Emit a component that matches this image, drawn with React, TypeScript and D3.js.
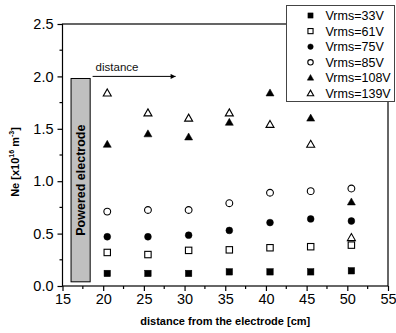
import React, { useEffect, useRef } from "react";
import * as d3 from "d3";

// distance from the electrode [cm]
const distances = [20.5, 25.5, 30.5, 35.5, 40.5, 45.5, 50.5];

const seriesNames = [
  "Vrms=33V",
  "Vrms=61V",
  "Vrms=75V",
  "Vrms=85V",
  "Vrms=108V",
  "Vrms=139V",
];

// Ne [x10^16 m^-3]
const v33 = [0.12, 0.12, 0.12, 0.135, 0.135, 0.135, 0.145];
const v61 = [0.32, 0.3, 0.34, 0.345, 0.365, 0.375, 0.39];
const v75 = [0.47, 0.47, 0.485, 0.53, 0.605, 0.64, 0.62];
const v85 = [0.71, 0.725, 0.725, 0.79, 0.89, 0.905, 0.93];
const v108 = [1.35, 1.45, 1.42, 1.56, 1.84, 1.6, 0.8];
const v139 = [1.84, 1.65, 1.6, 1.65, 1.54, 1.35, 0.46];

const seriesValues = [v33, v61, v75, v85, v108, v139];
const markerShapes = ["square", "square", "circle", "circle", "triangle", "triangle"];
const markerFilled = [true, false, true, false, true, false];

const xTicks = [15, 20, 25, 30, 35, 40, 45, 50, 55];
const yTicks = [0.0, 0.5, 1.0, 1.5, 2.0, 2.5];

// electrode block (data units)
const electrodeX = [16.05, 18.4];
const electrodeY = [0.04, 1.98];
const arrowX = [18.7, 28.9];

const App: React.FC = () => {
  const ref = useRef<SVGSVGElement>(null);

  useEffect(() => {
    const svg = d3.select(ref.current);
    svg.selectAll("*").remove();

    const margin = { top: 24, right: 8, bottom: 47, left: 62.5 };
    const W = 396;
    const H = 333;
    const width = W - margin.left - margin.right;
    const height = H - margin.top - margin.bottom;
    const font = "'Liberation Sans', Arial, sans-serif";

    const x = d3.scaleLinear().domain([15, 55]).range([0, width]);
    const y = d3.scaleLinear().domain([0, 2.5]).range([height, 0]);

    const g = svg.append("g").attr("transform", `translate(${margin.left},${margin.top})`);

    // frame
    g.append("rect")
      .attr("width", width)
      .attr("height", height)
      .attr("fill", "none")
      .attr("stroke", "#000")
      .attr("stroke-width", 1.2);

    // x axis
    const xAxis = g.append("g").attr("transform", `translate(0,${height})`);
    xAxis
      .call(d3.axisBottom(x).tickValues(xTicks).tickSize(5).tickPadding(3).tickFormat(d3.format("d")))
      .call((s: any) => s.select(".domain").remove());
    xAxis.selectAll("text").attr("font-size", 14.5).attr("font-family", font).attr("fill", "#000");
    xAxis.selectAll("line").attr("stroke-width", 1.2);
    xAxis
      .selectAll(".minor")
      .data(xTicks.slice(0, -1).map((t) => t + 2.5))
      .join("line")
      .attr("x1", (d: number) => x(d))
      .attr("x2", (d: number) => x(d))
      .attr("y1", 0)
      .attr("y2", 3)
      .attr("stroke", "#000")
      .attr("stroke-width", 1.2);

    // y axis
    const yAxis = g.append("g");
    yAxis
      .call(d3.axisLeft(y).tickValues(yTicks).tickSize(5).tickPadding(4).tickFormat(d3.format(".1f")))
      .call((s: any) => s.select(".domain").remove());
    yAxis.selectAll("text").attr("font-size", 14.5).attr("font-family", font).attr("fill", "#000");
    yAxis.selectAll("line").attr("stroke-width", 1.2);
    yAxis
      .selectAll(".minor")
      .data(yTicks.slice(0, -1).map((t) => t + 0.25))
      .join("line")
      .attr("x1", -3)
      .attr("x2", 0)
      .attr("y1", (d: number) => y(d))
      .attr("y2", (d: number) => y(d))
      .attr("stroke", "#000")
      .attr("stroke-width", 1.2);

    // axis labels
    svg
      .append("text")
      .attr("x", margin.left + width / 2)
      .attr("y", 325)
      .attr("text-anchor", "middle")
      .attr("font-family", font)
      .attr("font-weight", "bold")
      .attr("font-size", 11)
      .text("distance from the electrode [cm]");

    const yl = svg
      .append("text")
      .attr("transform", `translate(19,${margin.top + height / 2 + 7}) rotate(-90)`)
      .attr("text-anchor", "middle")
      .attr("font-family", font)
      .attr("font-weight", "bold")
      .attr("font-size", 11);
    yl.append("tspan").text("Ne [x10");
    yl.append("tspan").attr("font-size", 7).attr("dy", -5).text("16");
    yl.append("tspan").attr("dy", 5).text(" m");
    yl.append("tspan").attr("font-size", 7).attr("dy", -5).text("-3");
    yl.append("tspan").attr("dy", 5).text("]");

    // powered electrode
    g.append("rect")
      .attr("x", x(electrodeX[0]))
      .attr("y", y(electrodeY[1]))
      .attr("width", x(electrodeX[1]) - x(electrodeX[0]))
      .attr("height", y(electrodeY[0]) - y(electrodeY[1]))
      .attr("fill", "#c0c0c0")
      .attr("stroke", "#000")
      .attr("stroke-width", 1);
    const ex = (x(electrodeX[0]) + x(electrodeX[1])) / 2;
    const ey = (y(electrodeY[0]) + y(electrodeY[1])) / 2;
    g.append("text")
      .attr("transform", `translate(${ex + 4.5},${ey}) rotate(-90)`)
      .attr("text-anchor", "middle")
      .attr("font-family", font)
      .attr("font-weight", "bold")
      .attr("font-size", 12.5)
      .text("Powered electrode");

    // distance arrow
    svg
      .append("defs")
      .append("marker")
      .attr("id", "arrowhead")
      .attr("viewBox", "0 0 10 10")
      .attr("refX", 10)
      .attr("refY", 5)
      .attr("markerWidth", 8)
      .attr("markerHeight", 5)
      .attr("markerUnits", "userSpaceOnUse")
      .attr("orient", "auto")
      .append("path")
      .attr("d", "M0,0L10,5L0,10Z")
      .attr("fill", "#000");
    const ay = y(2.0);
    g.append("line")
      .attr("x1", x(arrowX[0]))
      .attr("x2", x(arrowX[1]))
      .attr("y1", ay)
      .attr("y2", ay)
      .attr("stroke", "#000")
      .attr("stroke-width", 1)
      .attr("marker-end", "url(#arrowhead)");
    g.append("text")
      .attr("x", x(arrowX[0]) + 3)
      .attr("y", ay - 5)
      .attr("font-family", font)
      .attr("font-size", 11.5)
      .attr("fill", "#111")
      .text("distance");

    // markers
    const drawMarker = (sel: any, shape: string, filled: boolean, k: number) => {
      const fill = filled ? "#000" : "#fff";
      if (shape === "square") {
        sel.append("rect").attr("x", -3.2 * k).attr("y", -3.2 * k).attr("width", 6.4 * k).attr("height", 6.4 * k);
      } else if (shape === "circle") {
        sel.append("circle").attr("r", 3.4 * k);
      } else {
        sel.append("path").attr("d", `M0,${-4.2 * k}L${4 * k},${2.8 * k}L${-4 * k},${2.8 * k}Z`);
      }
      sel.selectAll("*").attr("fill", fill).attr("stroke", "#000").attr("stroke-width", filled ? 0.5 : 1.1);
    };

    seriesValues.forEach((vals, i) => {
      vals.forEach((v, j) => {
        const m = g.append("g").attr("transform", `translate(${x(distances[j])},${y(v)})`);
        drawMarker(m, markerShapes[i], markerFilled[i], 1);
      });
    });

    // legend
    const lg = svg.append("g").attr("transform", "translate(286.5,5.5)");
    lg.append("rect")
      .attr("width", 108)
      .attr("height", 96)
      .attr("fill", "#fff")
      .attr("stroke", "#444")
      .attr("stroke-width", 1);
    seriesNames.forEach((name, i) => {
      const rowY = 10 + i * 15.6;
      const m = lg.append("g").attr("transform", `translate(24,${rowY})`);
      drawMarker(m, markerShapes[i], markerFilled[i], 0.8);
      lg.append("text")
        .attr("x", 39)
        .attr("y", rowY + 4.5)
        .attr("font-family", font)
        .attr("font-size", 12.5)
        .text(name);
    });
  }, []);

  return (
    <svg
      ref={ref}
      width={396}
      height={333}
      style={{ position: "absolute", left: 0, top: 0, background: "#fff" }}
    />
  );
};

export default App;
